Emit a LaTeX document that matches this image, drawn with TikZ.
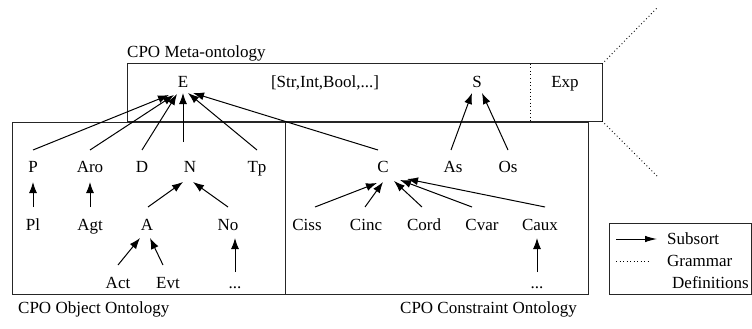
\documentclass[tikz,border=0pt]{standalone}
\usepackage{fontspec}
\setmainfont{Liberation Serif}
\newfontfamily\tnrfont{Liberation Serif}
\usetikzlibrary{arrows.meta}
\begin{document}
\begin{tikzpicture}[x=1pt,y=-1pt,
  lbl/.style={inner sep=0pt, text height=11.3pt, text depth=0pt, font=\tnrfont\fontsize{17}{20}\selectfont},
  sub/.style={-{Latex[length=11pt,width=8pt]}, line width=1pt},
  frame/.style={line width=1pt, draw=black!85},
  gram/.style={line width=0.9pt, dash pattern=on 0.9pt off 2.6pt}]
\useasboundingbox (0,0) rectangle (752,329);

% frames
\draw[frame] (127,64) rectangle (602,121);
\draw[frame] (12,122) rectangle (285,294);
\draw[frame] (285,122) rectangle (588,294);
\draw[frame] (609,223) rectangle (751,294);

% grammar lines
\coordinate (mtr) at (602,64);
\coordinate (mbr) at (602,121);
\coordinate (gtop) at (657,8);
\coordinate (gbot) at (657,176);
\coordinate (dvt) at (530,64);
\coordinate (dvb) at (530,121);
\draw[gram] (mtr) -- (gtop);
\draw[gram] (mbr) -- (gbot);
\draw[gram] (dvt) -- (dvb);

% titles
\node[lbl, anchor=west] (tmeta) at (127,52) {CPO Meta-ontology};
\node[lbl, anchor=west] (tobj) at (18,308) {CPO Object Ontology};
\node[lbl, anchor=east] (tcon) at (577,308) {CPO Constraint Ontology};

% meta row
\node[lbl] (E) at (183,82) {E};
\node[lbl] (Str) at (325,82) {[Str,Int,Bool,...]};
\node[lbl] (S) at (477,82) {S};
\node[lbl] (Exp) at (565,82) {Exp};

% row 2
\node[lbl] (P) at (33,167) {P};
\node[lbl] (Aro) at (90,167) {Aro};
\node[lbl] (D) at (142,167) {D};
\node[lbl] (N) at (190,167) {N};
\node[lbl] (Tp) at (257,167) {Tp};
\node[lbl] (C) at (383,167) {C};
\node[lbl] (As) at (453,167) {As};
\node[lbl] (Os) at (508,167) {Os};

% row 3
\node[lbl] (Pl) at (33,225) {Pl};
\node[lbl] (Agt) at (90,225) {Agt};
\node[lbl] (A) at (147,225) {A};
\node[lbl] (No) at (228,225) {No};
\node[lbl] (Ciss) at (307,225) {Ciss};
\node[lbl] (Cinc) at (366,225) {Cinc};
\node[lbl] (Cord) at (424,225) {Cord};
\node[lbl] (Cvar) at (482,225) {Cvar};
\node[lbl] (Caux) at (540,225) {Caux};

% row 4
\node[lbl] (Act) at (118,283) {Act};
\node[lbl] (Evt) at (168,283) {Evt};
\node[lbl] (d1) at (235,283) {...};
\node[lbl] (d2) at (537,283) {...};

% arrows to E
\draw[sub] ([shift={(0,-17)}]P.center) -- ([shift={(-14,13)}]E.center);
\draw[sub] ([shift={(0,-17)}]Aro.center) -- ([shift={(-9,13)}]E.center);
\draw[sub] ([shift={(0,-17)}]D.center) -- ([shift={(-6,12)}]E.center);
\draw[sub] ([shift={(-7,-25)}]N.center) -- ([shift={(0,11)}]E.center);
\draw[sub] ([shift={(0,-17)}]Tp.center) -- ([shift={(5,11)}]E.center);
\draw[sub] ([shift={(-5,-17)}]C.center) -- ([shift={(10,11)}]E.center);

% arrows to S
\draw[sub] ([shift={(-2,-17)}]As.center) -- ([shift={(-5,11)}]S.center);
\draw[sub] ([shift={(0,-17)}]Os.center) -- ([shift={(5,11)}]S.center);

% object ontology
\draw[sub] ([shift={(0,-18)}]Pl.center) -- ([shift={(0,15)}]P.center);
\draw[sub] ([shift={(0,-18)}]Agt.center) -- ([shift={(0,15)}]Aro.center);
\draw[sub] ([shift={(1,-18)}]A.center) -- ([shift={(-7,15)}]N.center);
\draw[sub] ([shift={(0,-18)}]No.center) -- ([shift={(3,15)}]N.center);
\draw[sub] ([shift={(0,-18)}]Act.center) -- ([shift={(-7,13)}]A.center);
\draw[sub] ([shift={(-5,-18)}]Evt.center) -- ([shift={(3,13)}]A.center);
\draw[sub] ([shift={(0,-11)}]d1.center) -- ([shift={(7,13)}]No.center);

% constraint ontology
\draw[sub] ([shift={(8,-18)}]Ciss.center) -- ([shift={(-6,16)}]C.center);
\draw[sub] ([shift={(-1,-18)}]Cinc.center) -- ([shift={(0,15)}]C.center);
\draw[sub] ([shift={(-2,-18)}]Cord.center) -- ([shift={(11,14)}]C.center);
\draw[sub] ([shift={(-10,-18)}]Cvar.center) -- ([shift={(17,13)}]C.center);
\draw[sub] ([shift={(5,-18)}]Caux.center) -- ([shift={(24,12)}]C.center);
\draw[sub] ([shift={(0,-11)}]d2.center) -- ([shift={(-3,13)}]Caux.center);

% legend
\coordinate (la1) at (616,239);
\coordinate (la2) at (657,239);
\coordinate (lg1) at (616,261);
\coordinate (lg2) at (648,261);
\draw[sub, -{Latex[length=12pt,width=6.5pt]}] (la1) -- (la2);
\draw[gram] (lg1) -- (lg2);
\node[lbl, anchor=west] (lsub) at (667,239) {Subsort};
\node[lbl, anchor=west] (lgram) at (667,261) {Grammar};
\node[lbl, anchor=west] (ldef) at (672,283) {Definitions};
\end{tikzpicture}
\end{document}
